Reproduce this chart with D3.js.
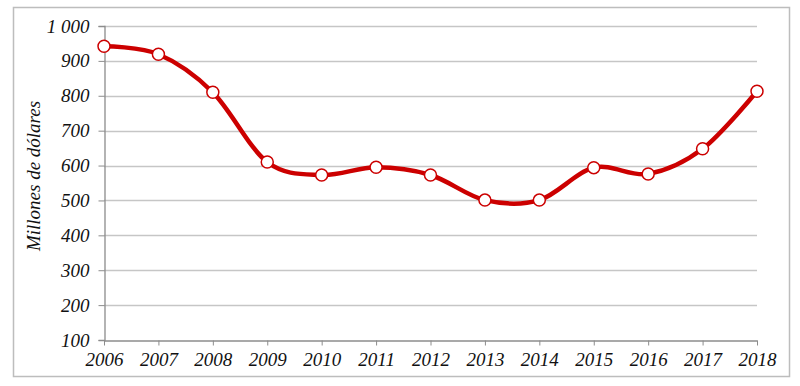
<!DOCTYPE html>
<html>
<head>
<meta charset="utf-8">
<script src="https://cdn.jsdelivr.net/npm/d3@7"></script>
<style>
  body { margin: 0; background: #fff; }
</style>
</head>
<body>
<div id="chart"></div>
<script>
// data
const years = [2006, 2007, 2008, 2009, 2010, 2011, 2012, 2013, 2014, 2015, 2016, 2017, 2018];
const values = [942, 919, 810, 610, 573, 595, 573, 501, 501, 594, 576, 648, 813];
const yTicks = [100, 200, 300, 400, 500, 600, 700, 800, 900, 1000];

const FONT = "'Liberation Serif', 'Times New Roman', serif";
const W = 800, H = 386;
const margin = {top: 26, right: 42, bottom: 46, left: 104};
const width = W - margin.left - margin.right,
      height = H - margin.top - margin.bottom;

const svg = d3.select("#chart").append("svg")
    .attr("width", W)
    .attr("height", H);

// outer frame
svg.append("rect")
    .attr("x", 13.5).attr("y", 7.5)
    .attr("width", 776).attr("height", 369)
    .attr("fill", "none")
    .attr("stroke", "#bdbdbd")
    .attr("stroke-width", 1.5);

const g = svg.append("g")
    .attr("transform", `translate(${margin.left},${margin.top})`);

const x = d3.scalePoint()
    .domain(years)
    .range([0, width - 1]);

const y = d3.scaleLinear()
    .domain([100, 1000])
    .range([height, 0]);

// gridlines
g.append("g")
  .selectAll("line")
  .data(yTicks.filter(d => d > 100))
  .join("line")
    .attr("x1", 0).attr("x2", width - 1)
    .attr("y1", d => Math.round(y(d)) + 0.5)
    .attr("y2", d => Math.round(y(d)) + 0.5)
    .attr("stroke", "#c6c6c6")
    .attr("stroke-width", 1.3);

const fmt = d => d >= 1000 ? d3.format(",")(d).replace(",", " ") : d;

// y axis
const yAxis = g.append("g")
    .attr("transform", "translate(0.5,0)")
    .call(d3.axisLeft(y).tickValues(yTicks).tickSize(6).tickPadding(9).tickFormat(fmt));
yAxis.attr("font-family", FONT).attr("font-size", 19).attr("font-style", "italic");
yAxis.select(".domain").attr("stroke", "#8c8c8c").attr("stroke-width", 1.3);
yAxis.selectAll(".tick line").attr("stroke", "#8c8c8c");
yAxis.selectAll("text").attr("fill", "#111");

// x axis
const xAxis = g.append("g")
    .attr("transform", `translate(0,${height + 0.5})`)
    .call(d3.axisBottom(x).tickSize(5).tickPadding(7).tickSizeOuter(0));
xAxis.attr("font-family", FONT).attr("font-size", 19).attr("font-style", "italic");
xAxis.select(".domain").attr("stroke", "#8c8c8c").attr("stroke-width", 1.3);
xAxis.selectAll(".tick line").attr("stroke", "#8c8c8c");
xAxis.selectAll("text").attr("fill", "#111");

// y title
svg.append("text")
    .attr("transform", "translate(40,176) rotate(-90)")
    .attr("text-anchor", "middle")
    .attr("font-family", FONT)
    .attr("font-style", "italic")
    .attr("font-size", 19)
    .attr("fill", "#111")
    .text("Millones de dólares");

const pts = years.map((yr, i) => ({yr, v: values[i]}));

const line = d3.line()
    .x(d => x(d.yr))
    .y(d => y(d.v))
    .curve(d3.curveCardinal.tension(0));

g.append("path")
    .datum(pts)
    .attr("d", line)
    .attr("fill", "none")
    .attr("stroke", "#cc0000")
    .attr("stroke-width", 4.5)
    .attr("stroke-linejoin", "round");

g.selectAll("circle")
  .data(pts)
  .join("circle")
    .attr("cx", d => x(d.yr))
    .attr("cy", d => y(d.v))
    .attr("r", 6)
    .attr("fill", "#fff")
    .attr("stroke", "#cc0000")
    .attr("stroke-width", 1.5);
</script>
</body>
</html>
